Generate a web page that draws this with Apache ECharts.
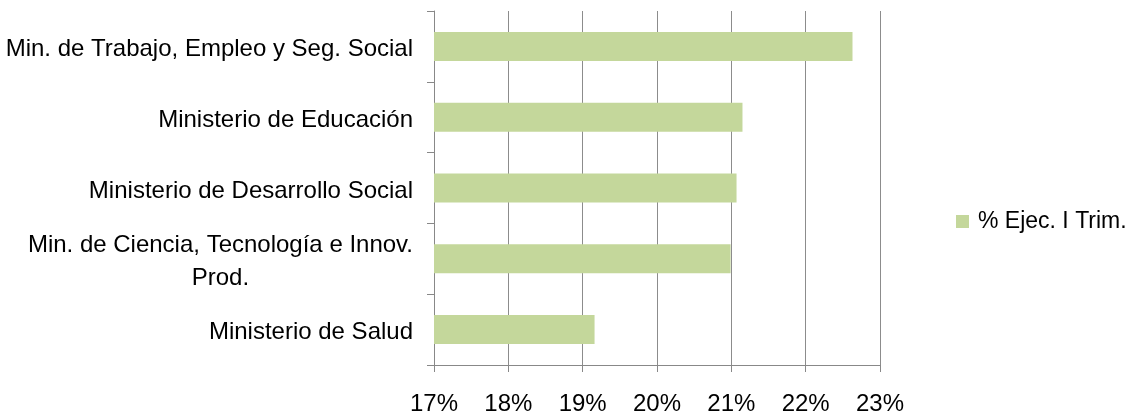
<!DOCTYPE html>
<html><head><meta charset="utf-8">
<script src="https://cdn.jsdelivr.net/npm/echarts@6/dist/echarts.min.js"></script>
<style>html,body{margin:0;padding:0;background:#fff}#c{width:1125px;height:418px}</style>
</head><body><div id="c"></div>
<script>
const categories = [
  "Min. de Trabajo, Empleo y Seg. Social",
  "Ministerio de Educación",
  "Ministerio de Desarrollo Social",
  "Min. de Ciencia, Tecnología e Innov.\nProd.",
  "Ministerio de Salud"
];
const seriesName = "% Ejec. I Trim.";
const values = [22.63, 21.15, 21.07, 20.99, 19.16];
const xTicks = { min: 17, max: 23, interval: 1 };

const FONT = "Liberation Sans";
const LABEL_SIZE = 24;
function measure(t, size) {
  const c = document.createElement('canvas').getContext('2d');
  c.font = size + 'px "' + FONT + '"';
  return c.measureText(t).width;
}
const chart = echarts.init(document.getElementById('c'), null, { renderer: 'canvas' });
chart.setOption({
  animation: false,
  grid: { left: 434, right: 245, top: 11, bottom: 53, containLabel: false },
  legend: {
    data: [seriesName], orient: 'vertical', left: 951, top: 205,
    itemWidth: 13, itemHeight: 13, icon: 'rect',
    textStyle: { fontFamily: FONT, fontSize: 23, color: '#000', padding: [0,0,0,4] }
  },
  xAxis: {
    type: 'value', min: xTicks.min, max: xTicks.max, interval: xTicks.interval,
    axisLine: { show: true, lineStyle: { color: '#888' } },
    axisTick: { show: true, length: 7, lineStyle: { color: '#888' } },
    splitLine: { show: true, lineStyle: { color: '#8c8c8c', width: 1 } },
    axisLabel: { formatter: v => v + '%', fontFamily: FONT, fontSize: 24, color: '#000', margin: 27 }
  },
  yAxis: {
    type: 'category', data: categories, inverse: true,
    axisLine: { show: true, lineStyle: { color: '#888' } },
    axisTick: { show: true, length: 7, alignWithLabel: false, lineStyle: { color: '#888' } },
    axisLabel: {
      fontFamily: FONT, fontSize: LABEL_SIZE, color: '#000', margin: 21, lineHeight: 33,
      padding: [6, 0, 0, 0],
      formatter: function (v) {
        if (v.indexOf('\n') < 0) return v;
        return v.split('\n').map(p => '{c|' + p + '}').join('\n');
      },
      rich: { c: { fontFamily: FONT, fontSize: LABEL_SIZE, color: '#000', lineHeight: 33, align: 'center', width: measure("Min. de Ciencia, Tecnología e Innov.", LABEL_SIZE) } }
    }
  },
  series: [{
    name: seriesName, type: 'bar', data: values, barWidth: 29,
    itemStyle: { color: '#c4d79b' }
  }]
});
</script></body></html>
